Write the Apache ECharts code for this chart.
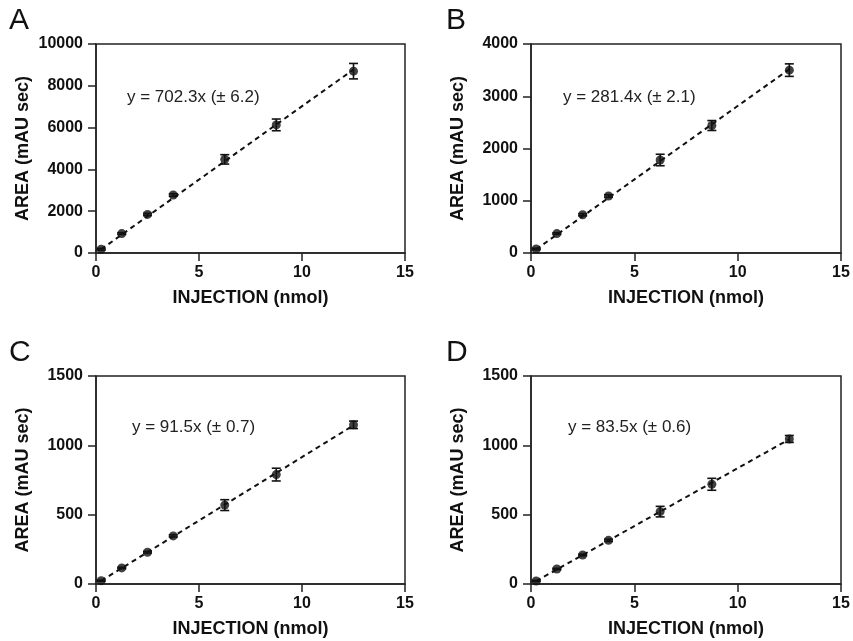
<!DOCTYPE html>
<html>
<head>
<meta charset="utf-8">
<script src="https://cdn.jsdelivr.net/npm/echarts@6/dist/echarts.min.js"></script>
<style>
  html, body { margin: 0; padding: 0; background: #fff; }
  #chart-container { width: 853px; height: 641px; }
</style>
</head>
<body>
<div id="chart-container"></div>
<script>
var dom = document.getElementById('chart-container');
var myChart = echarts.init(dom, null, { renderer: 'canvas' });

// injected amounts (nmol), same for every panel
var injection = [0.25, 1.25, 2.5, 3.75, 6.25, 8.75, 12.5];

// mean peak areas (mAU sec) and error (SD)
var areaA = [180, 930, 1845, 2775, 4480, 6130, 8700];
var errA = [40, 40, 50, 60, 225, 280, 370];
var areaB = [77, 372, 732, 1090, 1780, 2440, 3500];
var errB = [15, 15, 20, 25, 110, 95, 120];
var areaC = [24, 116, 229, 347, 569, 789, 1148];
var errC = [4, 5, 6, 8, 39, 46, 27];
var areaD = [22, 108, 209, 315, 522, 719, 1046];
var errD = [4, 5, 6, 8, 38, 43, 25];

// fitted line end points
var fitA = [[0.25, 176], [12.5, 8779]];
var fitB = [[0.25, 70], [12.5, 3518]];
var fitC = [[0.25, 23], [12.5, 1144]];
var fitD = [[0.25, 21], [12.5, 1044]];

var equations = ['y = 702.3x (\u00b1 6.2)', 'y = 281.4x (\u00b1 2.1)', 'y = 91.5x (\u00b1 0.7)', 'y = 83.5x (\u00b1 0.6)'];
var letters = ['A', 'B', 'C', 'D'];
var yMax = [10000, 4000, 1500, 1500];
var yStep = [2000, 1000, 500, 500];

var panels = [
  { area: areaA, err: errA, fit: fitA },
  { area: areaB, err: errB, fit: fitB },
  { area: areaC, err: errC, fit: fitC },
  { area: areaD, err: errD, fit: fitD }
];

var grids = [
  { left: 96, top: 44, width: 309, height: 209 },
  { left: 531, top: 44, width: 310, height: 209 },
  { left: 96, top: 376, width: 309, height: 208 },
  { left: 531, top: 376, width: 310, height: 208 }
];
var letterPos = [[9, 6], [446, 6], [9, 338], [446, 338]];
var eqPos = [[127, 97], [563, 97], [132, 427], [568, 427]];

var ink = '#111';
var font = 'Liberation Sans, Arial, sans-serif';

var option = {
  backgroundColor: '#fff',
  animation: false,
  grid: [],
  xAxis: [],
  yAxis: [],
  series: [],
  graphic: []
};

panels.forEach(function (p, i) {
  option.grid.push(Object.assign({ show: true, borderColor: '#222', borderWidth: 1.5 }, grids[i]));
  option.xAxis.push({
    gridIndex: i, type: 'value', min: 0, max: 15, interval: 5,
    name: 'INJECTION (nmol)', nameLocation: 'middle', nameGap: 36,
    nameTextStyle: { fontFamily: font, fontWeight: 'bold', fontSize: 18, color: ink },
    axisLine: { lineStyle: { color: '#222', width: 1.5 } },
    axisTick: { inside: false, length: 8, lineStyle: { color: '#222', width: 1.5 } },
    axisLabel: { margin: 12, fontFamily: font, fontWeight: 'bold', fontSize: 16, color: ink },
    splitLine: { show: false }
  });
  option.yAxis.push({
    gridIndex: i, type: 'value', min: 0, max: yMax[i], interval: yStep[i],
    name: 'AREA (mAU sec)', nameLocation: 'middle', nameGap: 64,
    nameTextStyle: { fontFamily: font, fontWeight: 'bold', fontSize: 18, color: ink },
    axisLine: { show: true, lineStyle: { color: '#222', width: 1.5 } },
    axisTick: { show: true, inside: false, length: 8, lineStyle: { color: '#222', width: 1.5 } },
    axisLabel: {
      margin: 13, fontFamily: font, fontWeight: 'bold', fontSize: 16, color: ink,
      formatter: function (v) { return String(v); }
    },
    splitLine: { show: false }
  });

  option.series.push({
    type: 'line', xAxisIndex: i, yAxisIndex: i,
    data: p.fit, showSymbol: false, silent: true,
    lineStyle: { color: ink, width: 2, type: [5, 4] }
  });

  var bars = injection.map(function (x, k) {
    return [x, p.area[k] - p.err[k], p.area[k] + p.err[k]];
  });
  option.series.push({
    type: 'custom', xAxisIndex: i, yAxisIndex: i, data: bars,
    renderItem: function (params, api) {
      var lo = api.coord([api.value(0), api.value(1)]);
      var hi = api.coord([api.value(0), api.value(2)]);
      var w = 4.5;
      var st = { stroke: ink, lineWidth: 1.6 };
      return {
        type: 'group',
        children: [
          { type: 'line', shape: { x1: lo[0], y1: lo[1], x2: hi[0], y2: hi[1] }, style: st },
          { type: 'line', shape: { x1: lo[0] - w, y1: lo[1], x2: lo[0] + w, y2: lo[1] }, style: st },
          { type: 'line', shape: { x1: hi[0] - w, y1: hi[1], x2: hi[0] + w, y2: hi[1] }, style: st }
        ]
      };
    },
    z: 3
  });

  option.series.push({
    type: 'scatter', xAxisIndex: i, yAxisIndex: i,
    data: injection.map(function (x, k) { return [x, p.area[k]]; }),
    symbol: 'circle', symbolSize: 9,
    itemStyle: { color: ink },
    z: 4
  });

  option.graphic.push({
    type: 'text', left: letterPos[i][0], top: letterPos[i][1],
    style: { text: letters[i], font: '30px ' + font, fill: ink }
  });
  option.graphic.push({
    type: 'text', x: eqPos[i][0], y: eqPos[i][1],
    style: { text: equations[i], font: '17px ' + font, fill: '#222', verticalAlign: 'middle' }
  });
});

myChart.setOption(option);
window.addEventListener('resize', myChart.resize);
</script>
</body>
</html>
